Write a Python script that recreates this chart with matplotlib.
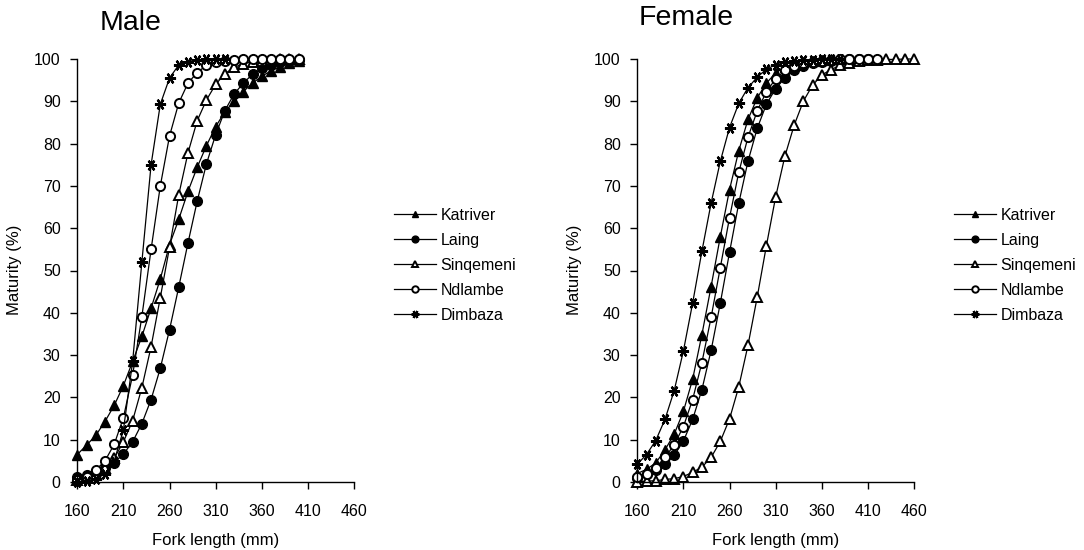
import matplotlib
matplotlib.use("Agg")
import matplotlib.pyplot as plt
import numpy as np

plt.rcParams['font.family'] = ['Liberation Sans', 'DejaVu Sans']

series_names = ["Katriver", "Laing", "Sinqemeni", "Ndlambe", "Dimbaza"]
x_ticks = [160, 210, 260, 310, 360, 410, 460]
y_ticks = [0, 10, 20, 30, 40, 50, 60, 70, 80, 90, 100]

# ---------------- Male ----------------
male_x = list(range(160, 410, 10))
male_katriver = [6.5, 8.7, 11.0, 14.3, 18.1, 22.8, 28.5, 34.4, 41.1, 48.0, 56.1, 62.1, 68.7,
                 74.4, 79.5, 84.0, 87.5, 90.0, 92.3, 94.3, 95.9, 97.2, 98.2, 99.0, 99.5]
male_laing = [1.2, 1.7, 2.7, 3.4, 4.6, 6.6, 9.5, 13.8, 19.5, 26.9, 36.0, 46.1, 56.5,
              66.4, 75.2, 82.1, 87.8, 91.7, 94.3, 96.4, 97.8, 98.6, 99.2, 99.5, 99.8]
male_sinqemeni = [0.5, 1.0, 1.8, 3.2, 5.6, 9.5, 14.5, 22.3, 32.0, 43.6, 55.5, 67.9, 77.8,
                  85.4, 90.3, 94.0, 96.5, 98.0, 98.9, 99.3, 99.6, 99.8, 99.9, 99.9, 100.0]
male_ndlambe = [0.5, 1.2, 2.8, 5.0, 8.9, 15.2, 25.3, 39.1, 55.0, 70.0, 81.8, 89.6, 94.3,
                96.8, 98.5, 99.3, 99.6, 99.8, 99.9, 100.0, 100.0, 100.0, 100.0, 100.0, 100.0]
male_dimbaza_x = list(range(160, 330, 10))
male_dimbaza = [0.1, 0.3, 0.7, 1.9, 5.0, 12.3, 28.5, 52.0, 75.0, 89.3, 95.5, 98.6, 99.4,
                99.8, 99.9, 100.0, 100.0]

# ---------------- Female ----------------
fem_katriver_x = list(range(160, 420, 10))
fem_katriver = [2.0, 3.0, 4.5, 7.6, 11.3, 16.7, 24.3, 34.8, 46.2, 58.0, 69.1, 78.3, 85.7,
                90.8, 94.3, 96.7, 98.1, 98.9, 99.4, 99.6, 99.8, 99.9, 99.9, 100.0, 100.0, 100.0]
fem_laing_x = list(range(160, 420, 10))
fem_laing = [1.0, 1.8, 2.8, 4.2, 6.3, 9.7, 14.8, 21.8, 31.1, 42.3, 54.3, 65.9, 75.8,
             83.6, 89.3, 93.0, 95.5, 97.3, 98.3, 99.0, 99.4, 99.6, 99.8, 99.9, 99.9, 100.0]
fem_sinqemeni_x = list(range(160, 470, 10))
fem_sinqemeni = [0.0, 0.2, 0.3, 0.6, 0.8, 1.3, 2.3, 3.5, 5.8, 9.6, 14.9, 22.5, 32.3,
                 43.7, 55.9, 67.4, 77.0, 84.3, 90.0, 93.8, 96.2, 97.5, 98.5, 99.1, 99.5,
                 99.7, 99.8, 99.9, 99.9, 100.0, 100.0]
fem_ndlambe_x = list(range(160, 430, 10))
fem_ndlambe = [1.3, 2.0, 3.4, 5.8, 8.8, 13.1, 19.5, 28.2, 38.9, 50.7, 62.5, 73.2, 81.5,
               87.7, 92.3, 95.3, 97.3, 98.4, 99.0, 99.4, 99.6, 99.8, 99.9, 99.9, 100.0,
               100.0, 100.0]
fem_dimbaza_x = list(range(160, 390, 10))
fem_dimbaza = [4.2, 6.5, 9.8, 14.8, 21.6, 31.0, 42.3, 54.5, 65.9, 75.8, 83.8, 89.5, 93.2,
               95.7, 97.6, 98.6, 99.2, 99.5, 99.7, 99.8, 99.9, 100.0, 100.0]

styles = {
    "Katriver": dict(marker='^', mfc='black', mec='black', ms=7.0, mew=1.0),
    "Laing": dict(marker='o', mfc='black', mec='black', ms=7.0, mew=1.0),
    "Sinqemeni": dict(marker='^', mfc='white', mec='black', ms=6.6, mew=1.4),
    "Ndlambe": dict(marker='o', mfc='white', mec='black', ms=6.6, mew=1.4),
    "Dimbaza": dict(marker=(6, 2, 90), mfc='black', mec='black', ms=8.0, mew=1.6),
}

fig = plt.figure(figsize=(10.84, 5.5), dpi=100)
W, H = 1084, 550
ax_m = fig.add_axes([77.3 / W, (H - 482) / H, (354 - 77.3) / W, (482 - 59) / H])
ax_f = fig.add_axes([637.3 / W, (H - 482) / H, (914 - 637.3) / W, (482 - 59) / H])

male_data = [(male_x, male_katriver), (male_x, male_laing), (male_x, male_sinqemeni),
             (male_x, male_ndlambe), (male_dimbaza_x, male_dimbaza)]
fem_data = [(fem_katriver_x, fem_katriver), (fem_laing_x, fem_laing),
            (fem_sinqemeni_x, fem_sinqemeni), (fem_ndlambe_x, fem_ndlambe),
            (fem_dimbaza_x, fem_dimbaza)]

for ax, data, legx in [(ax_m, male_data, 394), (ax_f, fem_data, 954)]:
    handles = []
    for name, (xs, ys) in zip(series_names, data):
        h, = ax.plot(xs, ys, color='black', lw=0.9, clip_on=False, label=name,
                     **styles[name])
        handles.append(h)
    ax.set_xlim(160, 460)
    ax.set_ylim(0, 100)
    ax.set_xticks(x_ticks)
    ax.set_yticks(y_ticks)
    for s in ['top', 'right']:
        ax.spines[s].set_visible(False)
    for s in ['left', 'bottom']:
        ax.spines[s].set_linewidth(1.0)
        ax.spines[s].set_color('black')
    ax.tick_params(axis='both', direction='out', length=5, width=1.0,
                   labelsize=11.5, colors='black')
    ax.tick_params(axis='x', pad=11)
    ax.tick_params(axis='y', pad=7)
    leg = ax.legend(handles=handles, loc='upper left',
                    bbox_to_anchor=(legx / W, (H - 208) / H),
                    bbox_transform=fig.transFigure, frameon=False,
                    fontsize=11.5, handlelength=2.6, handletextpad=0.3,
                    labelspacing=0.62, borderpad=0, borderaxespad=0,
                    markerscale=0.7)

fig.text(216 / W, 1 - 540 / H, "Fork length (mm)", ha='center', va='center', fontsize=12)
fig.text(776 / W, 1 - 540 / H, "Fork length (mm)", ha='center', va='center', fontsize=12)
fig.text(15 / W, 1 - 270 / H, "Maturity (%)", ha='center', va='center', rotation=90, fontsize=12)
fig.text(575 / W, 1 - 270 / H, "Maturity (%)", ha='center', va='center', rotation=90, fontsize=12)
fig.text(131 / W, 1 - 23 / H, "Male", ha='center', va='center', fontsize=20.5)
fig.text(686 / W, 1 - 18 / H, "Female", ha='center', va='center', fontsize=20.5)

fig.savefig("out.png", dpi=100)
